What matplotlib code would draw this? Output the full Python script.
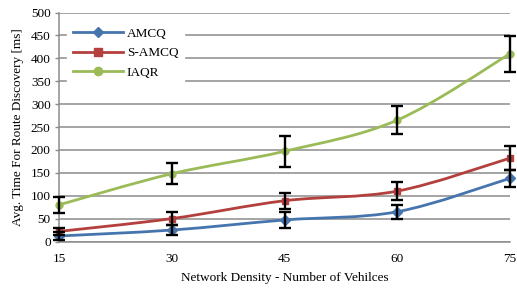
import matplotlib
matplotlib.use("Agg")
import matplotlib.pyplot as plt
import numpy as np
from matplotlib.path import Path
from matplotlib.patches import PathPatch
from matplotlib.lines import Line2D

plt.rcParams['font.family'] = ['Liberation Serif', 'DejaVu Serif']

densities = [15, 30, 45, 60, 75]
series_names = ['AMCQ', 'S-AMCQ', 'IAQR']
amcq = [12, 25, 47, 65, 138]
amcq_err = [8, 10, 17, 15, 19]
samcq = [22, 50, 89, 110, 182]
samcq_err = [8, 15, 17, 19, 26]
iaqr = [80, 148, 197, 265, 410]
iaqr_err = [17, 23, 34, 30, 39]
yticks = [0, 50, 100, 150, 200, 250, 300, 350, 400, 450, 500]

colors = ['#4675AE', '#B3403D', '#9BBB59']
markers = ['D', 's', 'o']
fs = 9.5

fig = plt.figure(figsize=(5.17, 2.90), dpi=100)
ax = fig.add_axes([59/517, 1-241.5/290, (510-59)/517, (241.5-12.5)/290])


def smooth_path(xs, ys):
    pts = np.column_stack([xs, ys]).astype(float)
    n = len(pts)
    verts = [pts[0]]
    codes = [Path.MOVETO]
    for i in range(n - 1):
        p0 = pts[i - 1] if i > 0 else pts[i]
        p1 = pts[i]
        p2 = pts[i + 1]
        p3 = pts[i + 2] if i + 2 < n else pts[i + 1]
        c1 = p1 + (p2 - p0) / 6.0
        c2 = p2 - (p3 - p1) / 6.0
        verts += [c1, c2, p2]
        codes += [Path.CURVE4] * 3
    return Path(verts, codes)


all_vals = [amcq, samcq, iaqr]
all_errs = [amcq_err, samcq_err, iaqr_err]
for vals, c, m in zip(all_vals, colors, markers):
    patch = PathPatch(smooth_path(densities, vals), facecolor='none', edgecolor=c,
                      lw=2.0, zorder=3, clip_on=False)
    ax.add_patch(patch)
    ax.plot(densities, vals, linestyle='none', marker=m, color=c,
            markersize=5, zorder=4, clip_on=False)

for vals, errs in zip(all_vals, all_errs):
    ax.errorbar(densities, vals, yerr=errs, fmt='none', ecolor='black',
                elinewidth=1.7, capsize=4, capthick=1.7, zorder=5, clip_on=False)

ax.set_xlim(15, 75)
ax.set_ylim(0, 500)
ax.set_xticks(densities)
ax.set_yticks(yticks)
ax.tick_params(axis='both', labelsize=fs, colors='black')
ax.tick_params(axis='y', length=3, width=1, color='#8c8c8c', pad=3)
ax.tick_params(axis='x', length=0, pad=8)
ax.grid(axis='y', color='#8c8c8c', lw=1.1, zorder=0)
ax.set_axisbelow(True)
for s in ['top', 'right']:
    ax.spines[s].set_visible(False)
ax.spines['left'].set_color('#8c8c8c')
ax.spines['bottom'].set_color('#8c8c8c')
ax.spines['left'].set_linewidth(1.1)
ax.spines['bottom'].set_linewidth(1.1)

ax.set_xlabel('Network Density - Number of Vehilces', fontsize=fs, labelpad=5)
ax.set_ylabel('Avg. Time For Route Discovery [ms]', fontsize=fs, labelpad=5)

handles = [Line2D([0], [0], color=c, marker=m, lw=2.0, markersize=[5, 6, 6][i])
           for i, (c, m) in enumerate(zip(colors, markers))]
leg = ax.legend(handles, series_names, loc='upper left', bbox_to_anchor=(0.01, 0.975),
                frameon=True, fontsize=fs, handlelength=3.8, labelspacing=0.55,
                borderaxespad=0.3, handletextpad=0.3)
leg.get_frame().set_edgecolor('white')
leg.get_frame().set_facecolor('white')
leg.get_frame().set_alpha(1)
leg.get_frame().set_boxstyle('square', pad=0)

fig.savefig('out.png', dpi=100)
